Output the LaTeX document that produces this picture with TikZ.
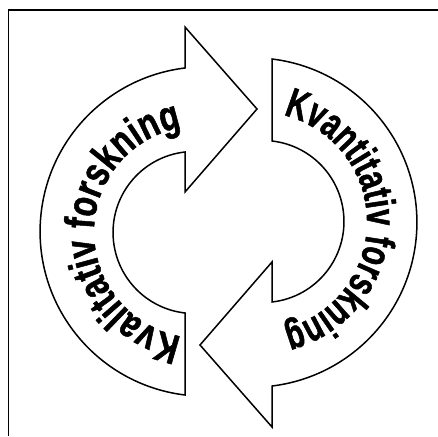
\documentclass[tikz,border=0pt]{standalone}
\usepackage{fontspec}
\newfontfamily\arcfontleft[FakeStretch=0.76,FakeBold=1.2]{Liberation Sans}
\newfontfamily\arcfontright[FakeStretch=0.70,FakeBold=1.2]{Liberation Sans}
\usetikzlibrary{decorations.text,calc}
\tikzset{
  arrowshape/.style={draw=black, fill=white, line width=1.5pt, line join=miter},
  framestyle/.style={draw=black, line width=1.8pt},
  arctext/.style 2 args={decorate, decoration={text along path, text align=center,
    text={|#1\bfseries\fontsize{42}{42}\selectfont|#2}}}
}
\begin{document}
\begin{tikzpicture}[x=1pt,y=1pt]
\useasboundingbox (0,0) rectangle (438,436);
% frame (only top and left edges visible)
\draw[framestyle] (8.5,0) -- (8.5,426) -- (438,426);
% left arrow (Kvalitativ)
\path[arrowshape] (185,41) arc[start angle=263.1, end angle=96.9, radius=164.7]
  -- (185,409) -- (257,327) -- (185,244) -- (185,284)
  arc[start angle=96.4, end angle=263.6, radius=81] -- cycle;
% right arrow (Kvantitativ), the left one turned half a turn
\begin{scope}[rotate around={180:(228.5,209)}]
\path[arrowshape] (185,41) arc[start angle=263.1, end angle=96.9, radius=164.7]
  -- (185,409) -- (257,327) -- (185,244) -- (185,284)
  arc[start angle=96.4, end angle=263.6, radius=81] -- cycle;
\end{scope}
% texts along the arcs
\coordinate (lc) at (200,204);
\coordinate (rc) at (257,214);
\path[arctext={\arcfontleft}{Kvalitativ forskning}]
  ($(lc)+(280:106)$) arc[start angle=280, end angle=80, radius=106];
\path[arctext={\arcfontright}{Kvantitativ forskning}]
  ($(rc)+(100:110)$) arc[start angle=100, end angle=-100, radius=110];
\end{tikzpicture}
\end{document}
